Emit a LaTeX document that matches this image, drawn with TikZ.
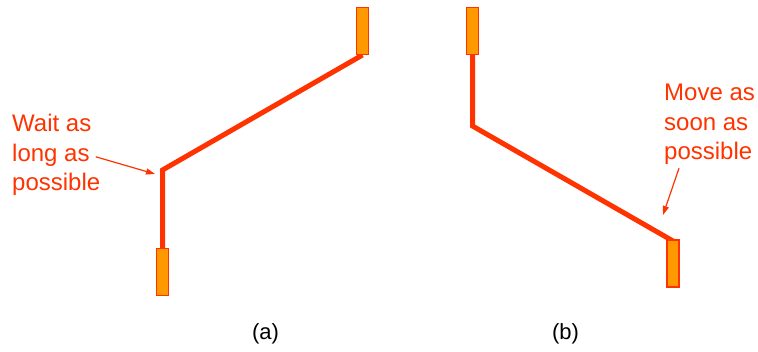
\documentclass[tikz,border=0pt]{standalone}
\usepackage{fontspec}
\setmainfont{Liberation Sans}
\usetikzlibrary{arrows.meta}
\definecolor{redor}{HTML}{FF3300}
\definecolor{orfill}{HTML}{FF9900}
\tikzset{
  pin/.style={draw=redor, fill=orfill, line width=1.2pt, minimum width=12pt, minimum height=47pt, inner sep=0pt, outer sep=0pt},
  wire/.style={draw=redor, line width=5pt, line join=miter},
  note/.style={text=redor, font=\fontsize{24}{29}\selectfont, anchor=base west, inner sep=0pt},
  pointer/.style={draw=redor, line width=1.2pt, -{Triangle[length=9pt,width=6pt]}},
  caption/.style={font=\fontsize{22}{26}\selectfont, anchor=base, inner sep=0pt}
}
\begin{document}
\begin{tikzpicture}[x=1pt,y=-1pt]
\useasboundingbox (0,0) rectangle (758,351);
% (a)
\coordinate (ac) at (162.5,170);
\coordinate (atip) at (155,174);
\path[wire] (162.5,250) -- (ac) -- (362.5,55);
\node[pin] (ab) at (162.5,272) {};
\node[pin] (at) at (362.5,31) {};
\node[note] (w1) at (12,131.5) {Wait as};
\node[note] (w2) at (12,161) {long as};
\node[note] (w3) at (12,190.5) {possible};
\draw[pointer] ([xshift=6pt,yshift=-2pt]w2.east) -- (atip);
\node[caption] (la) at (265.5,339) {(a)};
% (b)
\coordinate (bc) at (472.5,126);
\coordinate (btip) at (663,215);
\path[wire] (472.5,53) -- (bc) -- (673,241);
\node[pin] (bt) at (472.5,31) {};
\node[pin] (bb) at (673,263.5) {};
\node[note] (m1) at (664,100.5) {Move as};
\node[note] (m2) at (664,130) {soon as};
\node[note] (m3) at (664,159) {possible};
\draw[pointer] ([xshift=15pt,yshift=-4pt]m3.south west) -- (btip);
\node[caption] (lb) at (565.5,339) {(b)};
\end{tikzpicture}
\end{document}
